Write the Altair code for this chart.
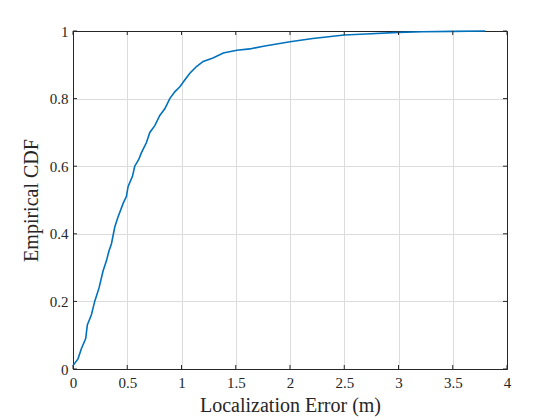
import altair as alt
import pandas as pd

err = [0.0, 0.046, 0.077, 0.117, 0.132, 0.169, 0.2, 0.24, 0.277, 0.308, 0.332, 0.354,
       0.385, 0.415, 0.462, 0.492, 0.508, 0.548, 0.569, 0.606, 0.631, 0.677, 0.708,
       0.754, 0.8, 0.846, 0.892, 0.938, 0.985, 1.03, 1.077, 1.138, 1.2, 1.29, 1.385,
       1.51, 1.63, 1.755, 2.0, 2.21, 2.5, 2.7, 3.0, 3.22, 3.5, 3.8]
cdf = [0.01, 0.03, 0.06, 0.09, 0.13, 0.16, 0.20, 0.24, 0.29, 0.32, 0.35, 0.37,
       0.42, 0.45, 0.49, 0.51, 0.54, 0.57, 0.60, 0.62, 0.64, 0.67, 0.70,
       0.72, 0.75, 0.77, 0.80, 0.82, 0.835, 0.855, 0.875, 0.895, 0.91, 0.92, 0.935,
       0.943, 0.947, 0.955, 0.968, 0.978, 0.988, 0.991, 0.996, 0.998, 0.999, 1.0]
x_ticks = [0, 0.5, 1, 1.5, 2, 2.5, 3, 3.5, 4]
y_ticks = [0, 0.2, 0.4, 0.6, 0.8, 1]

df = pd.DataFrame({"err": err, "cdf": cdf})
xt = pd.DataFrame({"xt": x_ticks})
yt = pd.DataFrame({"yt": y_ticks})

font = "Liberation Serif"
W, H = 434, 338
dark = "#262626"
xs = alt.Scale(domain=[0, 4], nice=False)
ys = alt.Scale(domain=[0, 1], nice=False)

line = alt.Chart(df).mark_line(color="#0072BD", strokeWidth=1.6).encode(
    x=alt.X("err:Q", scale=xs,
            axis=alt.Axis(title="Localization Error (m)", values=x_ticks,
                          format="~g", titleFontSize=20, titleFontWeight="normal",
                          labelFont=font, titleFont=font,
                          labelFontSize=15, titlePadding=5, labelPadding=6, tickSize=0)),
    y=alt.Y("cdf:Q", scale=ys,
            axis=alt.Axis(title="Empirical CDF", values=y_ticks,
                          format="~g", titleFontSize=20, titleFontWeight="normal",
                          labelFont=font, titleFont=font,
                          labelFontSize=15, titlePadding=8, labelPadding=5, tickSize=0)),
)

frame = alt.Chart(df).mark_line(opacity=0).encode(
    x=alt.X("err:Q", scale=xs,
            axis=alt.Axis(orient="top", title=None, labels=False, ticks=False, grid=False,
                          domainColor=dark)),
    y=alt.Y("cdf:Q", scale=ys,
            axis=alt.Axis(orient="right", title=None, labels=False, ticks=False, grid=False,
                          domainColor=dark)),
)

tick_bottom = alt.Chart(xt).mark_rule(color=dark, strokeWidth=1).encode(
    x=alt.X("xt:Q", scale=xs, axis=None), y=alt.value(H), y2=alt.value(H - 4))
tick_top = alt.Chart(xt).mark_rule(color=dark, strokeWidth=1).encode(
    x=alt.X("xt:Q", scale=xs, axis=None), y=alt.value(0), y2=alt.value(4))
tick_left = alt.Chart(yt).mark_rule(color=dark, strokeWidth=1).encode(
    y=alt.Y("yt:Q", scale=ys, axis=None), x=alt.value(0), x2=alt.value(4))
tick_right = alt.Chart(yt).mark_rule(color=dark, strokeWidth=1).encode(
    y=alt.Y("yt:Q", scale=ys, axis=None), x=alt.value(W), x2=alt.value(W - 4))

chart = alt.layer(line, frame, tick_bottom, tick_top, tick_left, tick_right).resolve_axis(
    x="independent", y="independent"
).properties(
    width=W, height=H,
    autosize=alt.AutoSizeParams(type="none"),
    padding={"left": 65, "top": 23, "right": 37, "bottom": 50},
).configure(font=font).configure_axis(
    labelColor=dark, titleColor=dark,
    gridColor="#dcdcdc", gridWidth=1, domainColor=dark,
    labelFlush=False,
).configure_view(stroke=dark, strokeWidth=1)

chart.save("out.html", embed_options={"renderer": "svg", "actions": False})
